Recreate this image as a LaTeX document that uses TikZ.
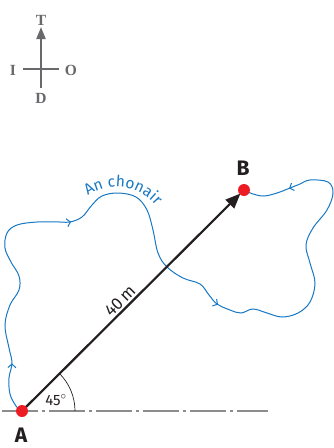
\documentclass[tikz,border=0pt]{standalone}
\usepackage{fontspec}
\setmainfont{Fira Sans}
\newfontfamily\compassfont{Liberation Serif}
\usetikzlibrary{arrows.meta,decorations.markings,decorations.text}
\definecolor{cblue}{RGB}{24,120,196}
\definecolor{cred}{RGB}{236,28,36}
\definecolor{cgray}{RGB}{105,105,108}
\definecolor{lgray}{RGB}{140,140,140}
\definecolor{cblack}{RGB}{35,31,32}
\newcommand{\chonairfont}{\fontsize{15.5}{15.5}\selectfont\color{cblue}}
\tikzset{
  compassline/.style={draw=cgray, line width=1.8pt},
  compasslabel/.style={text=cgray, font=\compassfont\bfseries\fontsize{15.5}{15.5}\selectfont, inner sep=0pt},
  pointdot/.style={circle, fill=cred, minimum size=12pt, inner sep=0pt},
  pointlabel/.style={text=cblack, font=\bfseries\fontsize{21}{21}\selectfont, inner sep=0pt},
  route/.style={draw=cblue, line width=1pt},
  routearrow/.style={cblue, line width=1pt},
  baseline/.style={draw=lgray, line width=1.6pt, dash pattern=on 36pt off 4pt on 3pt off 4pt, dash phase=-2pt},
  vec/.style={draw=cblack, line width=2.2pt, -{Triangle[length=15pt,width=12pt]}},
  smalltext/.style={text=cblack, font=\fontsize{17}{17}\selectfont},
}
\begin{document}
\begin{tikzpicture}[x=1pt,y=-1pt]
\useasboundingbox (0,0) rectangle (334,448);
% compass
\coordinate (cc) at (41,69);
\coordinate (cn) at (41,27);
\coordinate (cs) at (41,88);
\coordinate (cw) at (23,69);
\coordinate (ce) at (59,69);
\draw[compassline, -{Triangle[length=12pt,width=9pt]}] (cs) -- (cn);
\draw[compassline] (cw) -- (ce);
\node[compasslabel] (T) at (41,20) {T};
\node[compasslabel] (I) at (13,70) {I};
\node[compasslabel] (O) at (71,70) {O};
\node[compasslabel] (D) at (41,98) {D};
% baseline
\coordinate (bl) at (0,411);
\coordinate (br) at (268,411);
\draw[baseline] (bl) -- (br);
% route
\draw[route, postaction={decorate}, decoration={markings,
   mark=at position 53pt with {\arrow[routearrow]{Straight Barb[length=3.5pt,width=8pt]}},
   mark=at position 259pt with {\arrow[routearrow]{Straight Barb[length=3.5pt,width=8pt]}},
   mark=at position 479pt with {\arrow[routearrow]{Straight Barb[length=3.5pt,width=8pt]}},
   mark=at position 752pt with {\arrow[routearrow]{Straight Barb[length=3.5pt,width=8pt]}}}]
  plot[smooth, tension=0.6] coordinates {
  (22,412) (16,406) (10,394) (9,378) (12,363) (9,348) (5,325) (10,305) (19,290)
  (19,276) (11,262) (5,248) (7,233) (17,225) (37,222) (60,222) (70,222)
  (82,217) (92,205) (102,196) (118,193) (136,197) (147,210) (153,230) (158,253)
  (167,267) (183,278) (200,284) (209,295) (217,304) (230,310) (241,313) (253,309)
  (267,313) (282,317) (298,313) (310,302) (315,283) (310,263) (306,245) (313,228)
  (327,210) (333,193) (328,182) (310,180) (300,184) (290,188) (277,193) (264,196)
  (253,194) (244,190)};
\coordinate (ts) at (79,206);
\coordinate (te) at (163,217);
\path[decorate, decoration={text along path, text={|\chonairfont|An chonair}, text align=center}]
  (ts) .. controls (95,180) and (144,178) .. (te);
% angle
\coordinate (arcstart) at (75,411);
\draw[cblack, line width=0.7pt] (arcstart) arc[start angle=0, end angle=45, radius=53pt];
\node[smalltext, font=\fontsize{15}{15}\selectfont] (ang) at (56,400) {45$^{\circ}$};
% vector
\coordinate (a) at (22,411);
\coordinate (b) at (244,190);
\draw[vec, shorten >=5pt] (a) -- node[pos=0.47, sloped, above, inner sep=2pt, smalltext] (len) {40\,m} (b);
\node[pointdot] (A) at (a) {};
\node[pointdot] (B) at (b) {};
\node[pointlabel] (Alab) at (21,435) {A};
\node[pointlabel] (Blab) at (243,168) {B};
\end{tikzpicture}
\end{document}
